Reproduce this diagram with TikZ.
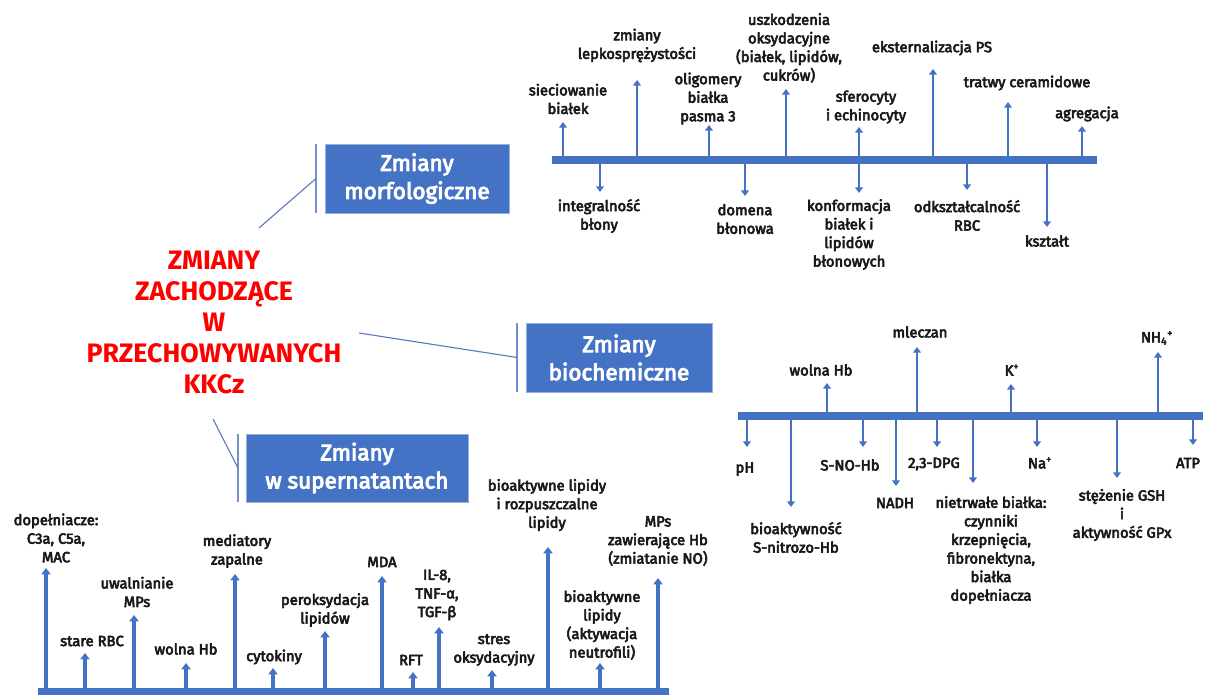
\documentclass[tikz,border=0pt]{standalone}
\usepackage{fontspec}
\setmainfont{Fira Sans}
\newfontfamily\lblfont{Fira Sans}[FakeBold=4]
\usetikzlibrary{arrows.meta,calc}

\definecolor{boxblue}{HTML}{4472C4}
\definecolor{linkblue}{HTML}{5B7BC0}
\definecolor{titlered}{HTML}{FF0000}

\tikzset{
	lbl/.style={align=center, inner sep=0pt, text=black!90, font=\lblfont\fontsize{10.5}{13.2}\selectfont},
	catbox/.style={fill=boxblue, draw=boxblue!55!white, text=white, align=center, inner sep=0pt, font=\lblfont\fontsize{16}{20}\selectfont},
	timeline/.style={boxblue, line width=5pt},
	arr/.style={-{Triangle[length=4pt,width=5.5pt]}, boxblue, line width=2.1pt},
	bigarr/.style={-{Triangle[length=4.5pt,width=6.5pt]}, boxblue, line width=2.8pt},
	link/.style={linkblue, line width=0.8pt},
	sidebar/.style={linkblue!85, line width=1pt},
}

\begin{document}
\begin{tikzpicture}[x=0.025cm, y=-0.025cm]
	\useasboundingbox (0,0) rectangle (1209,695);

	%title
	\node[text=titlered, align=center, font=\fontsize{19}{22}\selectfont\bfseries] (title) at (214,322.5)
		{ZMIANY\\ZACHODZĄCE\\W\\PRZECHOWYWANYCH\\KKCz};

	%category boxes
	\node[catbox, minimum width=4.6cm, minimum height=1.725cm] (morf) at (417,178.5) {Zmiany\\morfologiczne};
	\node[catbox, minimum width=4.65cm, minimum height=1.725cm] (biochem) at (619,357.5) {Zmiany\\biochemiczne};
	\node[catbox, minimum width=5.55cm, minimum height=1.7cm] (super) at (357,468) {Zmiany\\w supernatantach};

	%side bars and links
	\coordinate (mb1) at (316,144); \coordinate (mb2) at (316,213);
	\coordinate (bb1) at (517,323); \coordinate (bb2) at (517,392);
	\coordinate (sb1) at (238,434); \coordinate (sb2) at (238,502);
	\draw[sidebar] (mb1) -- (mb2);
	\draw[sidebar] (bb1) -- (bb2);
	\draw[sidebar] (sb1) -- (sb2);
	\coordinate (l1) at (259,228);
	\coordinate (l2) at (359,333);
	\coordinate (l3) at (213,419);
	\draw[link] (l1) -- ($(mb1)!.5!(mb2)$);
	\draw[link] (l2) -- ($(bb1)!.5!(bb2)$);
	\draw[link] (l3) -- ($(sb1)!.5!(sb2)$);

	%morphological axis
	\coordinate (ax1w) at (552,160);
	\coordinate (ax1e) at (1097,160);
	\coordinate (t1) at (563,122);
	\coordinate (t2) at (637,80);
	\coordinate (t3) at (709,125);
	\coordinate (t4) at (786,89);
	\coordinate (t5) at (859,127);
	\coordinate (t6) at (933,69);
	\coordinate (t7) at (1008,102);
	\coordinate (t8) at (1082,126);
	\coordinate (t9) at (600,192);
	\coordinate (t10) at (745,196);
	\coordinate (t11) at (859,193);
	\coordinate (t12) at (967,190);
	\coordinate (t13) at (1047,227);
	\foreach \t in {t1,t2,t3,t4,t5,t6,t7,t8,t9,t10,t11,t12,t13}
		\draw[arr] (\t |- ax1w) -- (\t);
	\draw[timeline] (ax1w) -- (ax1e);

	\node[lbl] (siec) at (568,99) {sieciowanie\\białek};
	\node[lbl] (lepko) at (637,45.5) {zmiany\\lepkosprężystości};
	\node[lbl] (oligo) at (708,98.5) {oligomery\\białka\\pasma 3};
	\node[lbl] (uszk) at (789,48) {uszkodzenia\\oksydacyjne\\(białek, lipidów,\\cukrów)};
	\node[lbl] (sfero) at (866,107) {sferocyty\\i echinocyty};
	\node[lbl] (ekst) at (932,48) {eksternalizacja PS};
	\node[lbl] (tratwy) at (1027,83) {tratwy ceramidowe};
	\node[lbl] (agreg) at (1087,114) {agregacja};
	\node[lbl] (integr) at (599,216) {integralność\\błony};
	\node[lbl] (domena) at (745,219) {domena\\błonowa};
	\node[lbl] (konf) at (849,234.5) {konformacja\\białek i\\lipidów\\błonowych};
	\node[lbl] (odksz) at (967,215.5) {odkształcalność\\RBC};
	\node[lbl] (ksztalt) at (1047,241) {kształt};

	%biochemical axis
	\coordinate (ax2w) at (738,416);
	\coordinate (ax2e) at (1203,416);
	\coordinate (b1) at (827,383);
	\coordinate (b2) at (917,347);
	\coordinate (b3) at (1011,384);
	\coordinate (b4) at (1158,352);
	\coordinate (b5) at (747,447);
	\coordinate (b6) at (791,507);
	\coordinate (b7) at (863,447);
	\coordinate (b8) at (896,486);
	\coordinate (b9) at (937,447);
	\coordinate (b10) at (973,483);
	\coordinate (b11) at (1037,447);
	\coordinate (b12) at (1117,478);
	\coordinate (b13) at (1193,445);
	\foreach \t in {b1,b2,b3,b4,b5,b6,b7,b8,b9,b10,b11,b12,b13}
		\draw[arr] (\t |- ax2w) -- (\t);
	\draw[timeline] (ax2w) -- (ax2e);

	\node[lbl] (wolnahb) at (821,370) {wolna Hb};
	\node[lbl] (mleczan) at (920,332) {mleczan};
	\node[lbl] (kplus) at (1012,370) {K\textsuperscript{+}};
	\node[lbl] (nh4) at (1157,338) {NH\textsubscript{4}\textsuperscript{+}};
	\node[lbl] (ph) at (745,469) {pH};
	\node[lbl] (snitro) at (796,537.5) {bioaktywność\\S-nitrozo-Hb};
	\node[lbl] (snohb) at (850,465) {S-NO-Hb};
	\node[lbl] (nadh) at (895,503) {NADH};
	\node[lbl] (dpg) at (934,464) {2,3-DPG};
	\node[lbl] (nietrw) at (991,550) {nietrwałe białka:\\czynniki\\krzepnięcia,\\fibronektyna,\\białka\\dopełniacza};
	\node[lbl] (naplus) at (1040,463) {Na\textsuperscript{+}};
	\node[lbl] (gsh) at (1122,515) {stężenie GSH\\i\\aktywność GPx};
	\node[lbl] (atp) at (1188,463) {ATP};

	%supernatant axis
	\coordinate (ax3w) at (38,692);
	\coordinate (ax3e) at (669,692);
	\coordinate (s1) at (46,568);
	\coordinate (s2) at (85,653);
	\coordinate (s3) at (134,615);
	\coordinate (s4) at (186,663);
	\coordinate (s5) at (235,574);
	\coordinate (s6) at (273,668);
	\coordinate (s7) at (325,631);
	\coordinate (s8) at (382,576);
	\coordinate (s9) at (413,672);
	\coordinate (s10) at (439,627);
	\coordinate (s11) at (492,670);
	\coordinate (s12) at (548,547);
	\coordinate (s13) at (600,663);
	\coordinate (s14) at (658,578);
	\foreach \t in {s1,s2,s3,s4,s5,s6,s7,s8,s9,s10,s11,s12,s13,s14}
		\draw[bigarr] (\t |- ax3w) -- (\t);
	\draw[timeline] (ax3w) -- (ax3e);

	\node[lbl] (dopel) at (56,538) {dopełniacze:\\C3a, C5a,\\MAC};
	\node[lbl] (stare) at (92,641) {stare RBC};
	\node[lbl] (uwaln) at (137,592) {uwalnianie\\MPs};
	\node[lbl] (wolnahb2) at (186,649) {wolna Hb};
	\node[lbl] (mediat) at (237,551) {mediatory\\zapalne};
	\node[lbl] (cytok) at (274,657) {cytokiny};
	\node[lbl] (perok) at (325,610) {peroksydacja\\lipidów};
	\node[lbl] (mda) at (382,562) {MDA};
	\node[lbl] (rft) at (411,660) {RFT};
	\node[lbl] (il8) at (437,595) {IL-8,\\TNF-α,\\TGF-β};
	\node[lbl] (stres) at (494,650) {stres\\oksydacyjny};
	\node[lbl] (biolip) at (547,505) {bioaktywne lipidy\\i rozpuszczalne\\lipidy};
	\node[lbl] (neutro) at (602,625) {bioaktywne\\lipidy\\(aktywacja\\neutrofili)};
	\node[lbl] (mpshb) at (658,541) {MPs\\zawierające Hb\\(zmiatanie NO)};

\end{tikzpicture}
\end{document}
